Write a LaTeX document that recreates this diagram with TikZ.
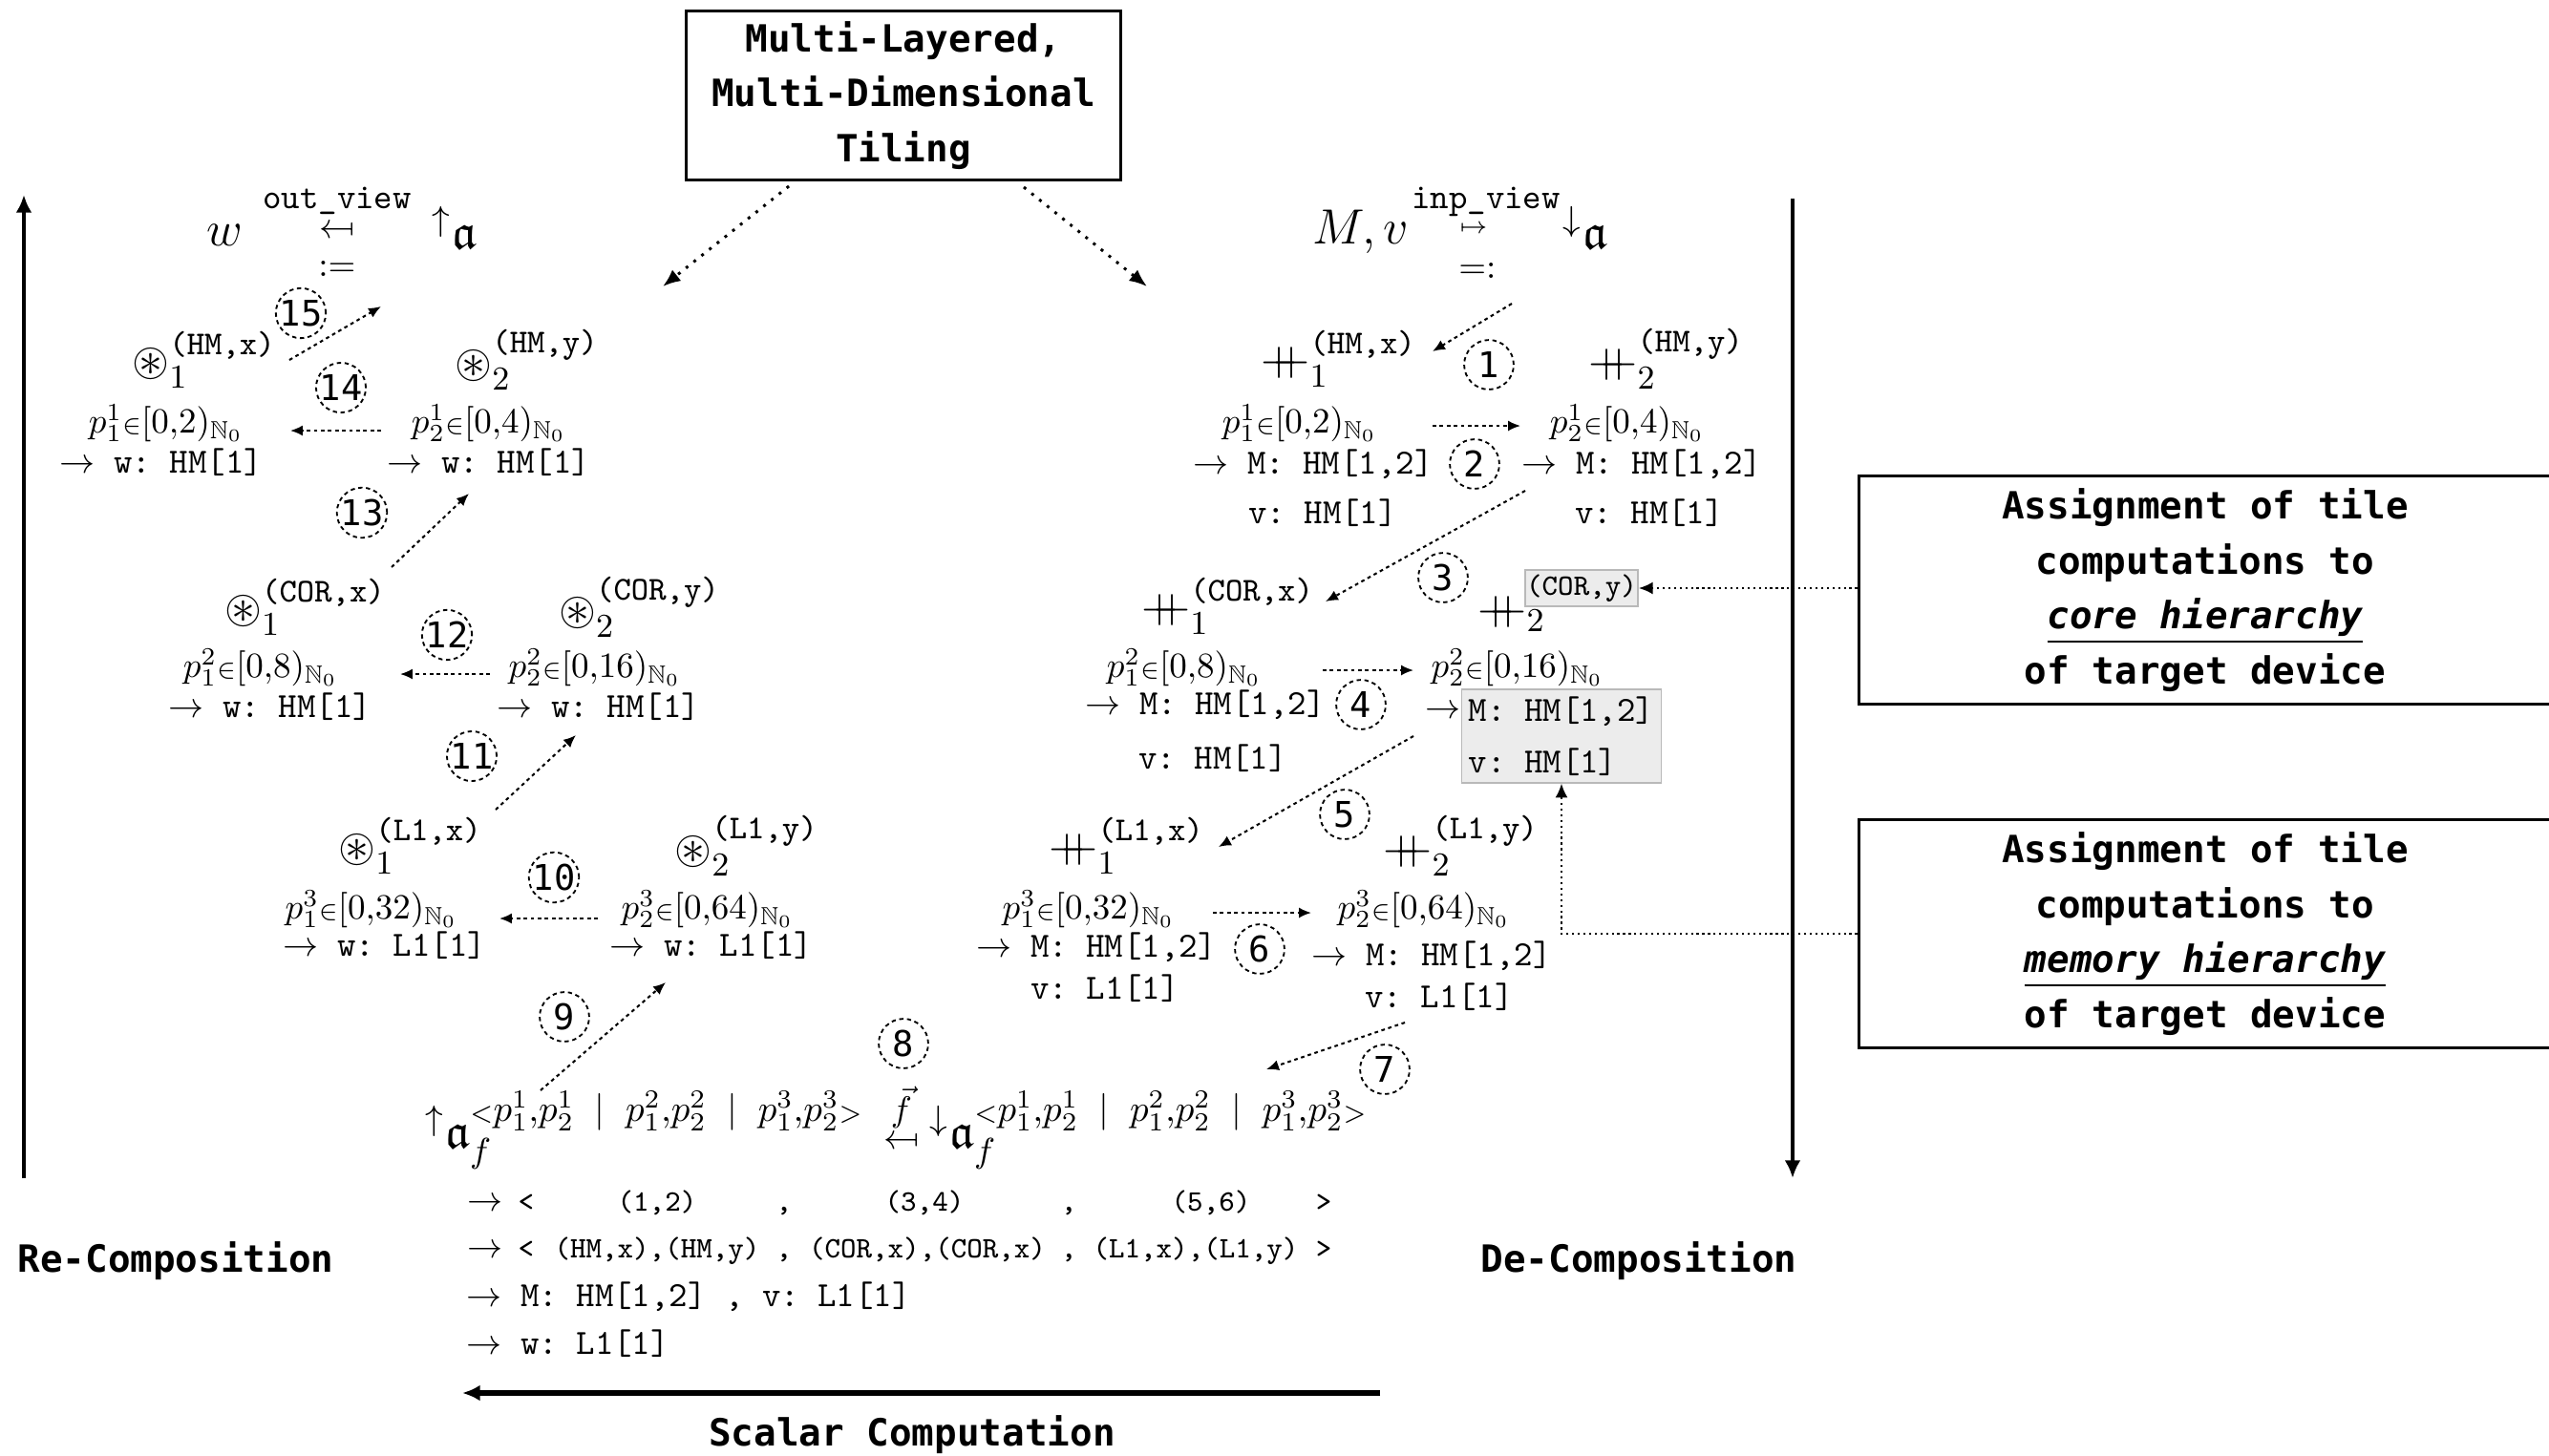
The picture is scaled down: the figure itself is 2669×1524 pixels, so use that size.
\RequirePackage{fix-cm}
\documentclass[tikz,border=0pt]{standalone}
\usepackage{amsmath,amssymb}
\usepackage{fontspec}
\newfontfamily\bmono{DejaVu Sans Mono}
\usetikzlibrary{arrows.meta}
\newcommand{\dplus}{\mathord{{+}\mkern-9mu{+}}}
\newcommand{\mfrom}{\reflectbox{$\mapsto$}}
\newcommand{\pin}{{\scriptstyle\in}}
\newcommand{\NN}{\mathbb{N}_0}
\newcommand{\tup}{\mbox{\fontsize{10.5}{12}\selectfont$\textstyle{\scriptstyle<}p_1^1{,}p_2^1\;\;|\;\;p_1^2{,}p_2^2\;\;|\;\;p_1^3{,}p_2^3{\scriptstyle>}$}}
\begin{document}
\frenchspacing
\begin{tikzpicture}[x=0.27pt,y=-0.27pt,
  txt/.style={inner sep=0pt, font=\fontsize{10}{12}\selectfont},
  ttl/.style={inner sep=0pt, font=\fontsize{10}{12}\selectfont\ttfamily},
  opn/.style={inner sep=0pt, font=\fontsize{13.5}{16}\selectfont},
  hdr/.style={inner sep=0pt, font=\fontsize{14}{16}\selectfont},
  sm/.style={inner sep=0pt, anchor=base, font=\fontsize{8.4}{10}\selectfont\ttfamily},
  num/.style={circle, draw, line width=0.5pt, dash pattern=on 1.2pt off 1pt, minimum size=14pt, inner sep=0pt, font=\bmono\fontsize{10}{12}\selectfont},
  flow/.style={-{Latex[length=3.5pt,width=3pt]}, line width=0.55pt, dash pattern=on 1pt off 1pt},
  tilearrow/.style={-{Latex[length=5pt,width=4pt]}, line width=0.8pt, dotted},
  assign/.style={-{Latex[length=4pt,width=3.5pt]}, line width=0.6pt, densely dotted},
  mainarrow/.style={-{Latex[length=5pt,width=4.5pt]}, line width=1.2pt},
  boldlbl/.style={font=\bmono\bfseries\fontsize{10.6}{15.5}\selectfont, align=center, inner sep=0pt},
  framebox/.style={draw, line width=0.8pt, boldlbl},
  grayb/.style={draw=gray!55, fill=gray!15, line width=0.4pt}
]
\useasboundingbox (0,0) rectangle (2669,1524);

% ---------- main arrows and labels
\coordinate (lb) at (25,1234); \coordinate (lt) at (25,204);
\coordinate (rt) at (1877,208); \coordinate (rb) at (1877,1234);
\coordinate (bs) at (1445,1459); \coordinate (be) at (484,1459);
\draw[mainarrow] (lb) -- (lt);
\draw[mainarrow] (rt) -- (rb);
\draw[mainarrow, line width=1.5pt] (bs) -- (be);
\node[boldlbl] (recomp) at (184,1321) {Re-Composition};
\node[boldlbl] (decomp) at (1716,1321) {De-Composition};
\node[boldlbl] (scalar) at (955,1503) {Scalar Computation};

% ---------- tiling box
\node[framebox, minimum width=123.1pt, minimum height=47.8pt] (tile) at (946,100) {Multi-Layered,\\Multi-Dimensional\\Tiling};
\coordinate (tl1) at (826,195); \coordinate (tl2) at (694,300);
\coordinate (tr1) at (1072,196); \coordinate (tr2) at (1201,300);
\draw[tilearrow] (tl1) -- (tl2);
\draw[tilearrow] (tr1) -- (tr2);

% ---------- assignment boxes
\begin{scope}
\clip (0,0) rectangle (2669,1524);
\node[framebox, minimum width=196pt, minimum height=64.5pt] (core) at (2309,618) {Assignment of tile\\computations to\\\underline{\itshape core hierarchy}\\of target device};
\node[framebox, minimum width=196pt, minimum height=64.5pt] (mem) at (2309,978) {Assignment of tile\\computations to\\\underline{\itshape memory hierarchy}\\of target device};
\end{scope}

% ---------- header left
\node[hdr] (wL) at (235,246) {$w$};
\node[ttl] (ovL) at (353,210) {out\_view};
\node[txt] (mfL) at (353,243) {\mfrom};
\node[txt] (defL) at (353,282) {$:=$};
\node[hdr] (aL) at (476,238) {${}^{\uparrow}\mathfrak{a}$};

% ---------- header right
\node[hdr] (MvR) at (1425,243) {$M,v$};
\node[ttl] (ivR) at (1556,211) {inp\_view};
\node[inner sep=0pt, font=\fontsize{6.5}{8}\selectfont] (mtR) at (1543,240) {$\mapsto$};
\node[txt] (eqR) at (1547,284) {$=:$};
\node[hdr] (aR) at (1660,238) {${}^{\downarrow}\mathfrak{a}$};

% ---------- left column (re-composition)
\node[opn] (o1HM) at (214,377) {$\circledast_1^{\texttt{(HM,x)}}$};
\node[opn] (o2HM) at (552,377) {$\circledast_2^{\texttt{(HM,y)}}$};
\node[txt] (p11L) at (174,443) {$p_1^1\pin[0{,}2)_{\NN}$};
\node[ttl] (w11L) at (169,484) {$\rightarrow$ w: HM[1]};
\node[txt] (p21L) at (512,443) {$p_2^1\pin[0{,}4)_{\NN}$};
\node[ttl] (w21L) at (512,484) {$\rightarrow$ w: HM[1]};

\node[opn] (o1COR) at (320,636) {$\circledast_1^{\texttt{(COR,x)}}$};
\node[opn] (o2COR) at (670,636) {$\circledast_2^{\texttt{(COR,y)}}$};
\node[txt] (p12L) at (273,699) {$p_1^2\pin[0{,}8)_{\NN}$};
\node[ttl] (w12L) at (283,740) {$\rightarrow$ w: HM[1]};
\node[txt] (p22L) at (623,699) {$p_2^2\pin[0{,}16)_{\NN}$};
\node[ttl] (w22L) at (627,740) {$\rightarrow$ w: HM[1]};

\node[opn] (o1L1) at (430,886) {$\circledast_1^{\texttt{(L1,x)}}$};
\node[opn] (o2L1) at (782,886) {$\circledast_2^{\texttt{(L1,y)}}$};
\node[txt] (p13L) at (389,952) {$p_1^3\pin[0{,}32)_{\NN}$};
\node[ttl] (w13L) at (403,990) {$\rightarrow$ w: L1[1]};
\node[txt] (p23L) at (741,952) {$p_2^3\pin[0{,}64)_{\NN}$};
\node[ttl] (w23L) at (745,990) {$\rightarrow$ w: L1[1]};

% ---------- right column (de-composition)
\node[opn] (h1HM) at (1402,376) {$\dplus_1^{\texttt{(HM,x)}}$};
\node[opn] (h2HM) at (1745,376) {$\dplus_2^{\texttt{(HM,y)}}$};
\node[txt] (p11R) at (1361,443) {$p_1^1\pin[0{,}2)_{\NN}$};
\node[ttl] (M11R) at (1375,486) {$\rightarrow$ M: HM[1,2]};
\node[ttl] (v11R) at (1385,537) {v: HM[1]};
\node[txt] (p21R) at (1704,443) {$p_2^1\pin[0{,}4)_{\NN}$};
\node[ttl] (M21R) at (1719,486) {$\rightarrow$ M: HM[1,2]};
\node[ttl] (v21R) at (1727,537) {v: HM[1]};

\node[opn] (h1COR) at (1286,635) {$\dplus_1^{\texttt{(COR,x)}}$};
\node[opn] (h2COR) at (1583,643) {$\dplus_2$};
\node[grayb, ttl, font=\fontsize{8.4}{10}\selectfont\ttfamily, minimum width=31.9pt, minimum height=10.3pt] (cory) at (1656,616) {(COR,y)};
\node[txt] (p12R) at (1240,699) {$p_1^2\pin[0{,}8)_{\NN}$};
\node[ttl] (M12R) at (1262,738) {$\rightarrow$ M: HM[1,2]};
\node[ttl] (v12R) at (1270,794) {v: HM[1]};
\node[txt] (p22R) at (1589,699) {$p_2^2\pin[0{,}16)_{\NN}$};
\node[txt] (ar22R) at (1511,746) {$\rightarrow$};
\node[grayb, ttl, align=left, font=\fontsize{10}{14.6}\selectfont\ttfamily, minimum width=55.4pt, minimum height=24.3pt, inner sep=2pt] (memg) at (1635,771) {M: HM[1,2]\\v: HM[1]};

\node[opn] (h1L1) at (1180,886) {$\dplus_1^{\texttt{(L1,x)}}$};
\node[opn] (h2L1) at (1530,886) {$\dplus_2^{\texttt{(L1,y)}}$};
\node[txt] (p13R) at (1140,952) {$p_1^3\pin[0{,}32)_{\NN}$};
\node[ttl] (M13R) at (1148,992) {$\rightarrow$ M: HM[1,2]};
\node[ttl] (v13R) at (1157,1035) {v: L1[1]};
\node[txt] (p23R) at (1491,952) {$p_2^3\pin[0{,}64)_{\NN}$};
\node[ttl] (M23R) at (1499,1001) {$\rightarrow$ M: HM[1,2]};
\node[ttl] (v23R) at (1507,1044) {v: L1[1]};

% ---------- scalar computation
\node[hdr, anchor=west] (fL) at (445,1184) {${}^{\uparrow}\mathfrak{a}_f^{\tup}$};
\node[txt] (fvec) at (944,1160) {$\vec f$};
\node[txt] (fmap) at (944,1197) {\mfrom};
\node[hdr, anchor=west] (fR) at (973,1184) {${}^{\downarrow}\mathfrak{a}_f^{\tup}$};

\node[txt, anchor=base] (r1arr) at (508,1268) {$\rightarrow$};
\node[sm] (r1a) at (551,1268) {<};
\node[sm] (r1b) at (688,1268) {(1,2)};
\node[sm] (r1c) at (821,1268) {,};
\node[sm] (r1d) at (968,1268) {(3,4)};
\node[sm] (r1e) at (1119,1268) {,};
\node[sm] (r1f) at (1268,1268) {(5,6)};
\node[sm] (r1g) at (1386,1268) {>};
\node[txt, anchor=base] (r2arr) at (508,1317) {$\rightarrow$};
\node[sm] (r2a) at (551,1317) {<};
\node[sm] (r2b) at (688,1317) {(HM,x),(HM,y)};
\node[sm] (r2c) at (821,1317) {,};
\node[sm] (r2d) at (971,1317) {(COR,x),(COR,x)};
\node[sm] (r2e) at (1119,1317) {,};
\node[sm] (r2f) at (1252,1317) {(L1,x),(L1,y)};
\node[sm] (r2g) at (1386,1317) {>};
\node[ttl, anchor=base west] (r3) at (488,1368) {$\rightarrow$ M: HM[1,2] , v: L1[1]};
\node[ttl, anchor=base west] (r4) at (488,1418) {$\rightarrow$ w: L1[1]};

% ---------- step circles
\node[num] (c1) at (1559,382) {1};
\node[num] (c2) at (1544,486) {2};
\node[num] (c3) at (1511,605) {3};
\node[num] (c4) at (1425,738) {4};
\node[num] (c5) at (1408,853) {5};
\node[num] (c6) at (1319,994) {6};
\node[num] (c7) at (1450,1120) {7};
\node[num] (c8) at (946,1093) {8};
\node[num] (c9) at (591,1065) {9};
\node[num] (c10) at (580,919) {10};
\node[num] (c11) at (494,792) {11};
\node[num] (c12) at (468,665) {12};
\node[num] (c13) at (379,537) {13};
\node[num] (c14) at (357,406) {14};
\node[num] (c15) at (315,328) {15};

% ---------- step arrows
\coordinate (a1s) at (1583,318);  \coordinate (a1e) at (1500,368);
\coordinate (a2s) at (1500,446);  \coordinate (a2e) at (1592,446);
\coordinate (a3s) at (1597,514);  \coordinate (a3e) at (1388,630);
\coordinate (a4s) at (1385,702);  \coordinate (a4e) at (1480,702);
\coordinate (a5s) at (1480,771);  \coordinate (a5e) at (1276,887);
\coordinate (a6s) at (1270,956);  \coordinate (a6e) at (1373,956);
\coordinate (a7s) at (1471,1071); \coordinate (a7e) at (1326,1120);
\coordinate (a9s) at (566,1142);  \coordinate (a9e) at (697,1029);
\coordinate (a10s) at (626,962);  \coordinate (a10e) at (523,962);
\coordinate (a11s) at (519,848);  \coordinate (a11e) at (603,770);
\coordinate (a12s) at (513,706);  \coordinate (a12e) at (419,706);
\coordinate (a13s) at (410,594);  \coordinate (a13e) at (491,517);
\coordinate (a14s) at (399,451);  \coordinate (a14e) at (304,451);
\coordinate (a15s) at (303,377);  \coordinate (a15e) at (399,321);
\foreach \k in {1,2,3,4,5,6,7,9,10,11,12,13,14,15}{\draw[flow] (a\k s) -- (a\k e);}

% ---------- assignment arrows
\draw[assign] (core.west |- cory.east) -- (cory.east);
\draw[assign] (mem.west) -| (memg.south);
\end{tikzpicture}
\end{document}
